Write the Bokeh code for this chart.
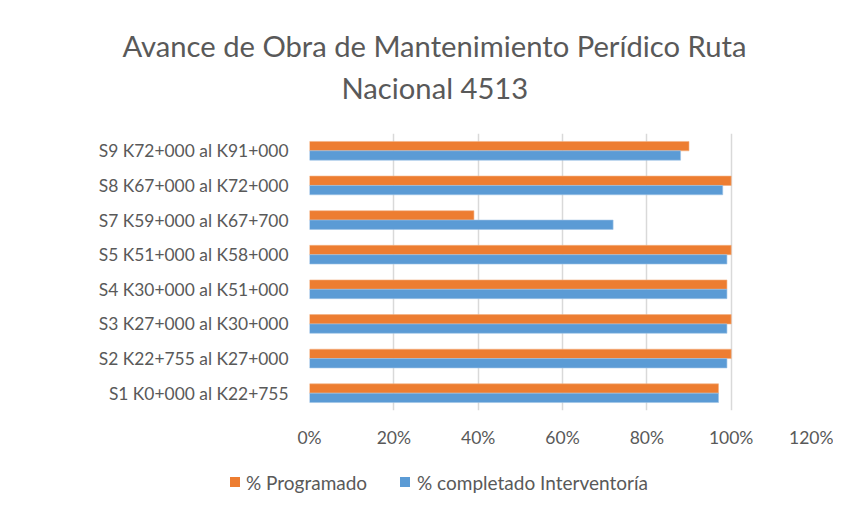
from bokeh.plotting import figure
from bokeh.layouts import column
from bokeh.models import (ColumnDataSource, FactorRange, Title, Div,
                          NumeralTickFormatter, FixedTicker, Range1d)
from bokeh.transform import dodge
from bokeh.embed import file_html
from bokeh.resources import INLINE

categories = [
    "S1 K0+000 al K22+755",
    "S2 K22+755 al K27+000",
    "S3 K27+000 al K30+000",
    "S4 K30+000 al K51+000",
    "S5 K51+000 al K58+000",
    "S7 K59+000 al K67+700",
    "S8 K67+000 al K72+000",
    "S9 K72+000 al K91+000",
]
programado = [0.97, 1.00, 1.00, 0.99, 1.00, 0.39, 1.00, 0.90]
interventoria = [0.97, 0.99, 0.99, 0.99, 0.99, 0.72, 0.98, 0.88]
x_ticks = [0, 0.2, 0.4, 0.6, 0.8, 1.0, 1.2]
title_line1 = "Avance de Obra de Mantenimiento Perídico Ruta"
title_line2 = "Nacional 4513"
series_names = ["% Programado", "% completado Interventoría"]

FONT = "Lato"
TEXT = "#595959"
ORANGE = "#ED7D31"
BLUE = "#5B9BD5"
W = 833

src = ColumnDataSource(dict(cat=categories, prog=programado, inter=interventoria))

p = figure(width=W, height=460, y_range=FactorRange(*categories),
           x_range=Range1d(0, 1.2), output_backend="svg", toolbar_location=None,
           min_border_left=309, min_border_right=W - 815, min_border_top=133,
           min_border_bottom=50)
p.outline_line_color = None
p.background_fill_color = "white"
p.border_fill_color = "white"

p.hbar(y=dodge("cat", 0.135, range=p.y_range), right="prog", left=0, height=0.27,
       source=src, fill_color=ORANGE, line_color="#F4B183", line_width=0.6)
p.hbar(y=dodge("cat", -0.135, range=p.y_range), right="inter", left=0, height=0.27,
       source=src, fill_color=BLUE, line_color="#9DC3E6", line_width=0.6)

p.xaxis.ticker = FixedTicker(ticks=x_ticks)
p.xaxis.formatter = NumeralTickFormatter(format="0%")
for ax in (p.xaxis[0], p.yaxis[0]):
    ax.axis_line_color = None
    ax.major_tick_line_color = None
    ax.minor_tick_line_color = None
    ax.major_label_text_font = FONT
    ax.major_label_text_color = TEXT
p.xaxis.major_label_text_font_size = "17.5px"
p.yaxis.major_label_text_font_size = "17.4px"
p.xaxis.major_label_standoff = 10
p.yaxis.major_label_standoff = 15

p.ygrid.grid_line_color = None
p.xgrid.grid_line_color = "#D9D9D9"
p.xgrid.grid_line_width = 1.5

# p.title is the outermost title (line 1); the added title sits nearest the frame (line 2)
p.title = Title(text=title_line1, align="left", offset=-187, standoff=-46,
                text_font=FONT, text_font_size="29.2px", text_font_style="normal",
                text_color=TEXT)
p.add_layout(Title(text=title_line2, align="left", offset=32, standoff=57,
                   text_font=FONT, text_font_size="29.2px", text_font_style="normal",
                   text_color=TEXT), "above")

sq = "position:absolute;top:17px;width:10px;height:10px;"
tx = "position:absolute;top:12px;line-height:1.2;white-space:nowrap;"
legend_html = (
    f'<div style="position:relative;width:{W}px;height:34px;font-family:{FONT};'
    f'font-size:19px;color:{TEXT};">'
    f'<span style="{sq}left:230px;background:{ORANGE};"></span>'
    f'<span style="{tx}left:246px;">{series_names[0]}</span>'
    f'<span style="{sq}left:400px;background:{BLUE};"></span>'
    f'<span style="{tx}left:417px;">{series_names[1]}</span>'
    '</div>'
)
lg = Div(text=legend_html, width=W, height=34, margin=(0, 0, 0, 0))

layout = column(p, lg, spacing=0)
open("out.html", "w").write(file_html(layout, INLINE))
